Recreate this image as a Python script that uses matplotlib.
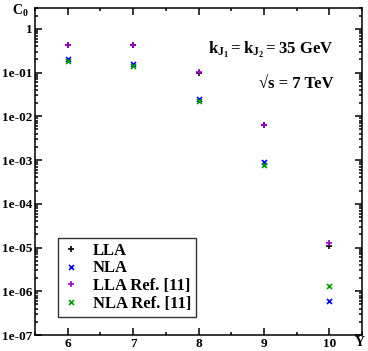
import numpy as np
import matplotlib
matplotlib.use('Agg')
import matplotlib.pyplot as plt
from matplotlib.ticker import FixedLocator, FixedFormatter, LogLocator, MultipleLocator

plt.rcParams['font.family'] = ['Liberation Serif', 'DejaVu Serif']
plt.rcParams['font.weight'] = 'bold'
plt.rcParams['mathtext.fontset'] = 'custom'
plt.rcParams['mathtext.rm'] = 'Liberation Serif:bold'
plt.rcParams['mathtext.bf'] = 'Liberation Serif:bold'
plt.rcParams['mathtext.it'] = 'Liberation Serif:bold'

Y = [6, 7, 8, 9, 10]
lla = [0.42, 0.42, 0.10, 0.0062, 1.1e-5]
nla = [0.20, 0.155, 0.025, 9.2e-4, 6.0e-7]
lla_ref = [0.42, 0.42, 0.105, 0.0063, 1.25e-5]
nla_ref = [0.18, 0.14, 0.023, 7.7e-4, 1.3e-6]

ytick_vals = [1e-7, 1e-6, 1e-5, 1e-4, 1e-3, 1e-2, 1e-1, 1]
ytick_labels = ['1e-07', '1e-06', '1e-05', '1e-04', '1e-03', '1e-02', '1e-01', '1']

fig = plt.figure(figsize=(3.68, 3.51), dpi=100)
ax = fig.add_axes([35/368, 16/351, 327/368, 327/351])

ms = 4.5
ax.plot(Y, lla, ls='none', marker='+', color='black', ms=ms, mew=1.2, label='LLA')
ax.plot(Y, nla, ls='none', marker='x', color='#0000ff', ms=ms*0.8, mew=1.2, label='NLA')
ax.plot(Y, lla_ref, ls='none', marker='+', color='#a000d0', ms=ms, mew=1.2, label='LLA Ref. [11]')
ax.plot(Y, nla_ref, ls='none', marker='x', color='#00a000', ms=ms*0.8, mew=1.2, label='NLA Ref. [11]')

ax.set_yscale('log')
ax.set_xlim(5.5, 10.5)
ax.set_ylim(1e-7, 3)

ax.xaxis.set_major_locator(MultipleLocator(1))
ax.xaxis.set_minor_locator(MultipleLocator(0.5))
ax.yaxis.set_major_locator(FixedLocator(ytick_vals))
ax.yaxis.set_major_formatter(FixedFormatter(ytick_labels))
ax.yaxis.set_minor_locator(LogLocator(base=10, subs=np.arange(2, 10), numticks=20))
ax.yaxis.set_minor_formatter(FixedFormatter([]))

ax.tick_params(which='both', direction='in', top=True, right=True, width=1.1,
               labelsize=9.5, pad=2)
ax.tick_params(which='major', length=5)
ax.tick_params(which='minor', length=2.5)
for lab in ax.get_xticklabels() + ax.get_yticklabels():
    lab.set_fontweight('bold')
for s in ax.spines.values():
    s.set_linewidth(1.1)

leg = ax.legend(loc='lower left', bbox_to_anchor=(0.07, 0.056), borderaxespad=0,
                frameon=True, fancybox=False, edgecolor='black', handlelength=1.0,
                handletextpad=0.8, borderpad=0.3, labelspacing=0.1,
                prop={'size': 12, 'weight': 'bold'})
leg.get_frame().set_linewidth(1.0)

ax.text(0.914, 0.872, r'$\mathbf{k_{J_1} = k_{J_2} = 35\ GeV}$', transform=ax.transAxes,
        ha='right', va='center', fontsize=12)
ax.text(0.914, 0.768, '\u221as = 7 TeV', transform=ax.transAxes,
        ha='right', va='center', fontsize=12, fontweight='bold')

fig.text(12/368, 1 - 11/351, r'$\mathbf{C_0}$', ha='left', va='center', fontsize=10)
fig.text(360/368, 1 - 343/351, 'Y', ha='center', va='center', fontsize=10, fontweight='bold')

fig.savefig('out.png', dpi=100)
